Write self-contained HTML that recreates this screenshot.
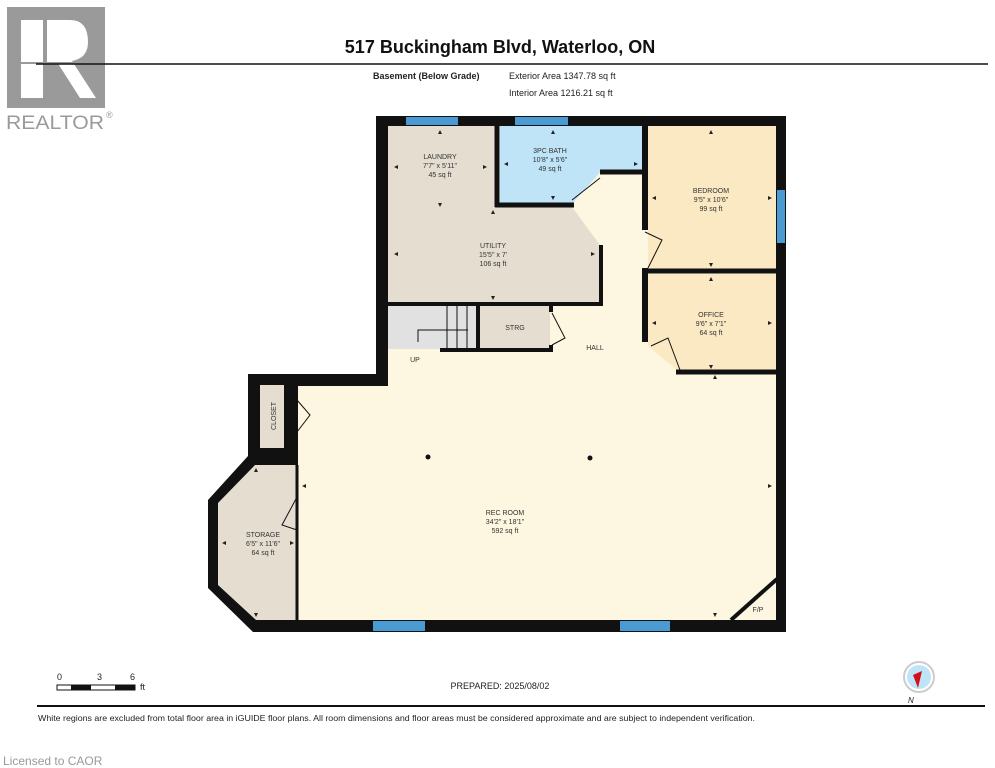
<!DOCTYPE html>
<html><head><meta charset="utf-8"><style>
body{margin:0;background:#fff;width:995px;height:768px;overflow:hidden;font-family:"Liberation Sans",sans-serif}
svg{position:absolute;left:0;top:0}
</style></head><body>
<svg width="995" height="768" viewBox="0 0 995 768" font-family="Liberation Sans, sans-serif">
<!-- logo -->
<rect x="7" y="7" width="98" height="101" fill="#9a9a9a"/>
<rect x="21" y="20" width="22" height="78" fill="#fff"/>
<path d="M47 20 H70 Q88 20 88 42 Q88 58 72 61 L96 98 H80 L57 62 H47 Z" fill="#fff"/>
<rect x="21" y="62" width="60" height="2" fill="#9a9a9a"/>
<text x="6" y="129" font-size="19" fill="#9a9a9a" textLength="98" lengthAdjust="spacingAndGlyphs">REALTOR</text>
<text x="106" y="118" font-size="9" fill="#9a9a9a">®</text>
<!-- header -->
<text x="500" y="53" font-size="18" font-weight="bold" text-anchor="middle" fill="#111">517 Buckingham Blvd, Waterloo, ON</text>
<line x1="36" y1="64" x2="988" y2="64" stroke="#111" stroke-width="1.5"/>
<text x="373" y="79" font-size="9" font-weight="bold" fill="#222">Basement (Below Grade)</text>
<text x="509" y="79" font-size="9" fill="#222">Exterior Area 1347.78 sq ft</text>
<text x="509" y="96" font-size="9" fill="#222">Interior Area 1216.21 sq ft</text>

<polygon points="376,116 786,116 786,632 253,632 208,588 208,500 248,456 248,374 376,374" fill="#111"/>
<polygon points="388,126 776,126 776,620 298,620 298,386 388,386" fill="#fdf6e1"/>
<polygon points="388,126 497,126 497,207 572,207 600,245 600,303 388,303" fill="#e5ddd0"/>
<polygon points="500,126 642,126 642,170 602,170 573,203 500,203" fill="#bfe3f7"/>
<rect x="648" y="126" width="128" height="144" fill="#fbe9c4"/>
<polygon points="648,274 776,274 776,371 678,371 648,346" fill="#fbe9c4"/>
<rect x="388" y="306" width="90" height="43" fill="#e1e1e1"/>
<rect x="480" y="306" width="70" height="43" fill="#e5ddd0"/>
<rect x="258" y="385" width="40" height="83" fill="#111"/>
<rect x="260" y="385" width="24" height="63" fill="#e5ddd0"/>
<polygon points="255,465 297,465 297,620 256,620 218,585 218,503" fill="#e5ddd0"/>
<line x1="297" y1="465" x2="297" y2="620" stroke="#111" stroke-width="3"/>
<g stroke="#111" fill="none">
<line x1="497" y1="126" x2="497" y2="207" stroke-width="5"/>
<line x1="495" y1="205" x2="574" y2="205" stroke-width="5"/>
<line x1="600" y1="172" x2="645" y2="172" stroke-width="5"/>
<line x1="645" y1="126" x2="645" y2="230" stroke-width="6"/>
<line x1="645" y1="268" x2="645" y2="342" stroke-width="6"/>
<line x1="645" y1="271" x2="776" y2="271" stroke-width="5"/>
<line x1="676" y1="372" x2="776" y2="372" stroke-width="5"/>
<line x1="601" y1="245" x2="601" y2="306" stroke-width="4"/>
<line x1="388" y1="304" x2="603" y2="304" stroke-width="4"/>
<line x1="440" y1="350" x2="553" y2="350" stroke-width="4"/>
<line x1="478" y1="306" x2="478" y2="350" stroke-width="4"/>
<line x1="551" y1="306" x2="551" y2="312" stroke-width="4"/>
<line x1="551" y1="345" x2="551" y2="350" stroke-width="4"/>
<line x1="731" y1="620" x2="777" y2="579" stroke-width="4"/>
<path d="M572 200 L600 178" stroke-width="1"/>
<path d="M645 232 L662 240 L648 268" stroke-width="1"/>
<path d="M651 346 L668 338 L680 370" stroke-width="1"/>
<path d="M552 313 L565 338 L552 345" stroke-width="1"/>
<path d="M297 400 L310 415 L297 432" stroke-width="1"/>
<path d="M297 497 L282 525 L297 530" stroke-width="1"/>
<path d="M447 306 V348 M457 306 V348 M467 306 V348" stroke-width="1"/>
<path d="M418 342 V330 H468" stroke-width="1"/>
</g>
<!-- dimension arrowheads -->
<g fill="#222">
<path d="M440 130 l-2 4 h4z M440 207 l-2 -4 h4z M394 167 l4 -2 v4z M487 167 l-4 -2 v4z"/>
<path d="M553 130 l-2 4 h4z M553 200 l-2 -4 h4z M504 164 l4 -2 v4z M638 164 l-4 -2 v4z"/>
<path d="M711 130 l-2 4 h4z M711 267 l-2 -4 h4z M652 198 l4 -2 v4z M772 198 l-4 -2 v4z"/>
<path d="M711 277 l-2 4 h4z M711 369 l-2 -4 h4z M652 323 l4 -2 v4z M772 323 l-4 -2 v4z"/>
<path d="M493 210 l-2 4 h4z M493 300 l-2 -4 h4z M394 254 l4 -2 v4z M595 254 l-4 -2 v4z"/>
<path d="M715 375 l-2 4 h4z M715 617 l-2 -4 h4z M302 486 l4 -2 v4z M772 486 l-4 -2 v4z"/>
<path d="M256 468 l-2 4 h4z M256 617 l-2 -4 h4z M222 543 l4 -2 v4z M294 543 l-4 -2 v4z"/>
</g>
<g fill="#4a9ad4">
<rect x="406" y="117" width="52" height="8"/>
<rect x="515" y="117" width="53" height="8"/>
<rect x="777" y="190" width="8" height="53"/>
<rect x="373" y="621" width="52" height="10"/>
<rect x="620" y="621" width="50" height="10"/>
</g>
<circle cx="428" cy="457" r="2.5" fill="#111"/>
<circle cx="590" cy="458" r="2.5" fill="#111"/>
<g font-size="7" fill="#333" text-anchor="middle">
<text x="440" y="159">LAUNDRY</text><text x="440" y="168">7'7" x 5'11"</text><text x="440" y="177">45 sq ft</text>
<text x="550" y="153">3PC BATH</text><text x="550" y="162">10'8" x 5'6"</text><text x="550" y="171">49 sq ft</text>
<text x="711" y="193">BEDROOM</text><text x="711" y="202">9'5" x 10'6"</text><text x="711" y="211">99 sq ft</text>
<text x="493" y="248">UTILITY</text><text x="493" y="257">15'5" x 7'</text><text x="493" y="266">106 sq ft</text>
<text x="711" y="317">OFFICE</text><text x="711" y="326">9'6" x 7'1"</text><text x="711" y="335">64 sq ft</text>
<text x="515" y="330">STRG</text>
<text x="595" y="350">HALL</text>
<text x="415" y="362">UP</text>
<text x="505" y="515">REC ROOM</text><text x="505" y="524">34'2" x 18'1"</text><text x="505" y="533">592 sq ft</text>
<text x="263" y="537">STORAGE</text><text x="263" y="546">6'5" x 11'6"</text><text x="263" y="555">64 sq ft</text>
<text x="758" y="612">F/P</text>
<text transform="translate(276,416) rotate(-90)">CLOSET</text>
</g>
<text x="57" y="680" font-size="9" fill="#222">0</text>
<text x="97" y="680" font-size="9" fill="#222">3</text>
<text x="130" y="680" font-size="9" fill="#222">6</text>
<rect x="57" y="685" width="78" height="5" fill="#fff" stroke="#111" stroke-width="1"/>
<rect x="71" y="685" width="20" height="5" fill="#111"/>
<rect x="115" y="685" width="20" height="5" fill="#111"/>
<text x="140" y="690" font-size="9" fill="#222">ft</text>
<text x="500" y="689" font-size="9" fill="#222" text-anchor="middle">PREPARED: 2025/08/02</text>
<circle cx="919" cy="677" r="15" fill="#fff" stroke="#ccc" stroke-width="2"/>
<circle cx="919" cy="677" r="12" fill="#bfe3f7"/>
<polygon points="913,675 922,671 918,688" fill="#d0101a"/>
<text x="908" y="703" font-size="8" fill="#222" font-style="italic">N</text>
<line x1="37" y1="706" x2="985" y2="706" stroke="#111" stroke-width="2"/>
<text x="38" y="721" font-size="8" fill="#222" textLength="717" lengthAdjust="spacingAndGlyphs">White regions are excluded from total floor area in iGUIDE floor plans. All room dimensions and floor areas must be considered approximate and are subject to independent verification.</text>
<text x="3" y="765" font-size="12" fill="#999">Licensed to CAOR</text>
</svg>
</body></html>
